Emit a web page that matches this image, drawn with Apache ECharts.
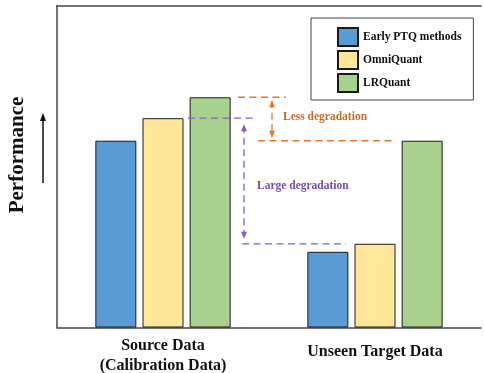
<!DOCTYPE html>
<html><head><meta charset="utf-8">
<script src="https://cdn.jsdelivr.net/npm/echarts@6/dist/echarts.min.js"></script>
<style>html,body{margin:0;padding:0;background:#fff}#c{width:484px;height:373px}</style>
</head><body><div id="c"></div>
<script>
var categories = ['Source Data\n(Calibration Data)', 'Unseen Target Data'];
var seriesNames = ['Early PTQ methods', 'OmniQuant', 'LRQuant'];
var earlyPTQ = [58, 23.5];
var omniQuant = [65, 26];
var lrQuant = [71.5, 58];
var yMax = 100;

var SERIF = "'Liberation Serif','Times New Roman',serif";
var colors = ['#5b9bd5', '#ffe699', '#a9d18e'];
var chart = echarts.init(document.getElementById('c'), null, {renderer: 'canvas'});
function barSeries(name, data, color) {
  return {
    name: name, type: 'bar', data: data, barWidth: 41, barGap: '15%',
    itemStyle: {color: color, borderColor: '#1a1a1a', borderWidth: 1}
  };
}
var catData = categories.map(function (c, i) {
  return i === 1 ? {value: c, textStyle: {padding: [6, 0, 0, 0]}} : c;
});
chart.setOption({
  animation: false,
  grid: {left: 57, right: 3, top: 5.5, bottom: 45.5, containLabel: false, outerBoundsMode: 'none'},
  legend: {
    orient: 'vertical', left: 311, top: 18,
    padding: [9, 12, 7, 26], itemWidth: 20, itemHeight: 18, itemGap: 3,
    borderColor: '#444', borderWidth: 1,
    textStyle: {fontFamily: SERIF, fontWeight: 'bold', fontSize: 11.5, color: '#111', lineHeight: 14},
    data: seriesNames.map(function (n) { return {name: n, icon: 'rect'}; })
  },
  xAxis: [{
    type: 'category', data: catData,
    axisLine: {lineStyle: {color: '#444', width: 1.5}},
    axisTick: {show: false},
    axisLabel: {fontFamily: SERIF, fontWeight: 'bold', fontSize: 16, color: '#111', lineHeight: 20, margin: 8}
  }, {
    type: 'category', data: categories, position: 'top',
    axisLine: {lineStyle: {color: '#444', width: 1.5}},
    axisTick: {show: false}, axisLabel: {show: false}
  }],
  yAxis: {
    type: 'value', min: 0, max: yMax,
    axisLine: {show: true, lineStyle: {color: '#444', width: 1.5}},
    axisTick: {show: false}, axisLabel: {show: false}, splitLine: {show: false}
  },
  series: [
    barSeries(seriesNames[0], earlyPTQ, colors[0]),
    barSeries(seriesNames[1], omniQuant, colors[1]),
    barSeries(seriesNames[2], lrQuant, colors[2])
  ]
});

function py(v) { return chart.convertToPixel({yAxisIndex: 0}, v); }
var orange = '#e07a2e', orangeText = '#c96a28';
var purple = '#8c5cc7', purpleText = '#7a48b3';
function dash(x1, y1, x2, y2, c) {
  return {type: 'line', shape: {x1: x1, y1: y1, x2: x2, y2: y2},
    style: {stroke: c, lineWidth: 1.3, lineDash: [7, 4.5]}, z: 10};
}
function head(x, y, dir, c) {
  return {type: 'polygon', shape: {points: [[x, y], [x - 3, y - 7 * dir], [x + 3, y - 7 * dir]]},
    style: {fill: c}, z: 11};
}
var yLrSrc = py(lrQuant[0]), yLrTgt = py(lrQuant[1]);
var yOmSrc = py(omniQuant[0]), yOmTgt = py(omniQuant[1]);
var g = [
  dash(238, yLrSrc, 286, yLrSrc, orange),
  dash(258, yLrTgt, 392, yLrTgt, orange),
  dash(272, yLrSrc + 4, 272, yLrTgt - 4, orange),
  head(272, yLrSrc + 3, -1, orange),
  head(272, yLrTgt - 3, 1, orange),
  {type: 'text', left: 283, top: 111, z: 12,
   style: {text: 'Less degradation', fill: orangeText, font: 'bold 11.5px ' + SERIF}},
  dash(188, yOmSrc, 253, yOmSrc, purple),
  dash(242, yOmTgt, 346, yOmTgt, purple),
  dash(244, yOmSrc + 8, 244, yOmTgt - 6, purple),
  head(244, yOmSrc + 6, -1, purple),
  head(244, yOmTgt - 5, 1, purple),
  {type: 'text', left: 257, top: 180, z: 12,
   style: {text: 'Large degradation', fill: purpleText, font: 'bold 11.5px ' + SERIF}},
  {type: 'text', x: 18, y: 155, rotation: Math.PI / 2, z: 12,
   style: {text: 'Performance', fill: '#111', font: 'bold 21px ' + SERIF, align: 'center', verticalAlign: 'middle'}},
  {type: 'line', shape: {x1: 43, y1: 183, x2: 43, y2: 120}, style: {stroke: '#111', lineWidth: 1.5}, z: 12},
  {type: 'polygon', shape: {points: [[43, 113], [40, 121], [46, 121]]}, style: {fill: '#111'}, z: 12}
];
chart.setOption({graphic: g});
</script></body></html>
